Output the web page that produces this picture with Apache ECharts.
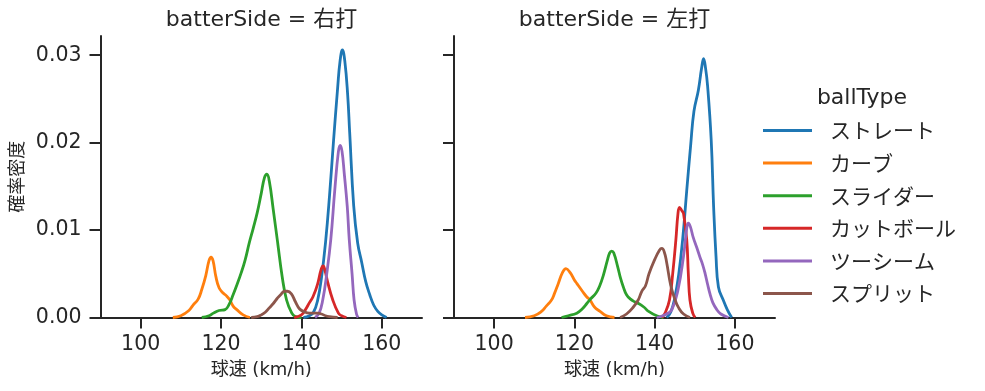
<!DOCTYPE html>
<html>
<head>
<meta charset="utf-8">
<script src="https://cdn.jsdelivr.net/npm/echarts@6/dist/echarts.min.js"></script>
<style>
html,body{margin:0;padding:0;background:#fff;}
#chart{width:985px;height:391px;}
</style>
</head>
<body>
<div id="chart"></div>
<script>
// ---------- data ----------
const ballTypes = ['ストレート', 'カーブ', 'スライダー', 'カットボール', 'ツーシーム', 'スプリット'];
const facetTitles = ['batterSide = 右打', 'batterSide = 左打'];
const xTicks = [100, 120, 140, 160];
const yTicks = [0, 0.01, 0.02, 0.03];
const xLabel = '球速 (km/h)';
const yLabel = '確率密度';
const legendTitle = 'ballType';

// 右打 (right-handed batters): [speed, density]
const rStraight = [[140.5,0],[142,0.0002],[143,0.0006],[144,0.0019],[145,0.0046],[146,0.0086],[147,0.0140],[148,0.0203],[149,0.0262],[149.6,0.0293],[150.2,0.0306],[150.8,0.0293],[151.5,0.0255],[152,0.0212],[153,0.0128],[154,0.0085],[155,0.0063],[156,0.0041],[157,0.0026],[158,0.0014],[159,0.0007],[160,0.0003],[161.2,0]];
const rCurve = [[108,0],[110,0.0002],[112,0.0008],[113,0.0014],[114.3,0.0021],[115.2,0.0032],[116.2,0.0048],[117,0.0065],[117.5,0.0069],[118,0.0065],[118.7,0.0047],[119.5,0.0034],[120.5,0.0028],[121.3,0.0025],[122.2,0.0020],[123,0.0013],[123.9,0.0009],[125.5,0.0003],[127.2,0]];
const rSlider = [[115.2,0],[117,0.0002],[118.1,0.0005],[119.5,0.0008],[121,0.0009],[122,0.0015],[123,0.0026],[124,0.0038],[125,0.0051],[126,0.0066],[127,0.0085],[128,0.0102],[129,0.0120],[130,0.0142],[130.8,0.0160],[131.4,0.0164],[132,0.0156],[133,0.0123],[134.1,0.0085],[135.2,0.0047],[136.3,0.0020],[137.6,0.0005],[138.5,0.0001],[140,0]];
const rCutter = [[138.2,0],[140,0.0003],[141,0.0009],[142,0.0017],[142.9,0.0024],[144,0.0038],[144.9,0.0055],[145.4,0.0059],[145.9,0.0053],[146.5,0.0041],[147.8,0.0020],[149.2,0.0005],[150,0.0002],[151.2,0]];
const rTwoSeam = [[143.4,0],[144.4,0.0005],[145.3,0.0020],[146.3,0.0050],[147.3,0.0089],[148.3,0.0146],[149.2,0.0190],[149.65,0.0197],[150.1,0.0190],[150.65,0.0165],[151.4,0.0127],[151.9,0.0089],[152.6,0.0050],[153.1,0.0020],[153.7,0.0004],[154.1,0]];
const rSplit = [[127.5,0],[129,0.0001],[130,0.0003],[131,0.0006],[132,0.0011],[133,0.0016],[134,0.0022],[135,0.0027],[135.8,0.0030],[136.5,0.0030],[137.5,0.0027],[138.5,0.0018],[139.5,0.0010],[140.5,0.0007],[142,0.0005],[144,0.0005],[145,0.0004],[146,0.0002],[147,0.0001],[149,0]];

// 左打 (left-handed batters)
const lStraight = [[143,0],[144,0.0006],[145,0.0022],[146,0.0049],[147,0.0090],[148,0.0145],[149,0.0198],[149.8,0.0236],[150.9,0.0260],[151.7,0.0285],[152.2,0.0296],[152.7,0.0285],[153.2,0.0265],[154.1,0.0203],[154.7,0.0127],[155.3,0.0070],[155.9,0.0035],[157.1,0.0020],[158.1,0.0009],[159.2,0]];
const lCurve = [[107.7,0],[110,0.0002],[111.8,0.0007],[113,0.0013],[114.3,0.0020],[115,0.0027],[116,0.0039],[117,0.0051],[117.9,0.0056],[119,0.0051],[120,0.0043],[120.6,0.0039],[122,0.0030],[123,0.0024],[123.9,0.0020],[125,0.0012],[126.4,0.0007],[128,0.0002],[130,0]];
const lSlider = [[116.8,0],[118.5,0.0002],[120.6,0.0005],[122,0.0010],[123.1,0.0016],[124,0.0021],[125.4,0.0028],[126.3,0.0036],[127.2,0.0048],[128.2,0.0065],[128.8,0.0074],[129.3,0.0076],[129.8,0.0074],[130.8,0.0058],[131.5,0.0045],[132.2,0.0035],[133,0.0026],[134,0.0021],[135,0.0018],[136,0.0016],[137.3,0.0012],[138.5,0.0007],[140.5,0.0002],[142.2,0]];
const lCutter = [[141.8,0],[142.6,0.0005],[143.7,0.0020],[144.5,0.0050],[145.3,0.0089],[145.8,0.0118],[146.2,0.0126],[146.8,0.0122],[147.2,0.0119],[148,0.0089],[148.4,0.0050],[148.8,0.0020],[149.5,0.0005],[150.1,0]];
const lTwoSeam = [[140.5,0],[142,0.0002],[143,0.0004],[144.3,0.0009],[145.8,0.0031],[147.2,0.0070],[148,0.0102],[148.4,0.0108],[148.9,0.0104],[149.6,0.0092],[150.5,0.0080],[151.3,0.0069],[152,0.0060],[152.6,0.0050],[153.2,0.0038],[153.8,0.0027],[154.5,0.0017],[155.5,0.0009],[156.5,0.0004],[158.4,0]];
const lSplit = [[131.4,0],[133,0.0004],[134.7,0.0012],[135.9,0.0020],[136.8,0.0030],[137.7,0.0036],[138.6,0.0050],[139.9,0.0065],[141.2,0.0077],[141.8,0.0079],[142.4,0.0075],[143,0.0063],[144,0.0037],[145.1,0.0020],[146,0.0011],[147.2,0.0004],[148.8,0]];

const facetData = [
  [rStraight, rCurve, rSlider, rCutter, rTwoSeam, rSplit],
  [lStraight, lCurve, lSlider, lCutter, lTwoSeam, lSplit]
];

// ---------- chart ----------
const palette = ['#1f77b4', '#ff7f0e', '#2ca02c', '#d62728', '#9467bd', '#8c564b'];
const ink = '#262626';
const FONT = '"DejaVu Sans", "Noto Sans CJK JP", sans-serif';
const JFONT = '"Noto Sans CJK JP", "DejaVu Sans", sans-serif';

const grids = [
  {left: 100.5, top: 36, width: 321.5, height: 281.5},
  {left: 454, top: 36, width: 321, height: 281.5}
];

function xAxisFor(i) {
  return {
    type: 'value', gridIndex: i, min: 90, max: 170,
    name: xLabel, nameLocation: 'middle', nameGap: 44,
    nameTextStyle: {fontFamily: FONT, fontSize: 18, color: ink},
    axisLine: {show: true, lineStyle: {color: ink, width: 2}},
    axisTick: {show: true, length: 11, lineStyle: {color: ink, width: 2}, customValues: xTicks},
    axisLabel: {show: true, margin: 17, fontFamily: FONT, fontSize: 20.5, color: ink, customValues: xTicks},
    splitLine: {show: false}
  };
}
function yAxisFor(i) {
  return {
    type: 'value', gridIndex: i, min: 0, max: 0.0322,
    name: i === 0 ? yLabel : '', nameLocation: 'middle', nameGap: 75, nameRotate: 90,
    nameTextStyle: {fontFamily: JFONT, fontSize: 18, color: ink},
    axisLine: {show: true, lineStyle: {color: ink, width: 2}},
    axisTick: {show: true, length: 11, lineStyle: {color: ink, width: 2}, customValues: yTicks},
    axisLabel: {show: i === 0, margin: 19, fontFamily: FONT, fontSize: 20.5, color: ink,
      customValues: yTicks, formatter: v => v.toFixed(2)},
    splitLine: {show: false}
  };
}

const series = [];
facetData.forEach((sets, i) => {
  sets.forEach((d, j) => {
    series.push({
      type: 'line', name: ballTypes[j], xAxisIndex: i, yAxisIndex: i,
      data: d, showSymbol: false, symbol: 'none', smooth: 0.45,
      lineStyle: {width: 2.8, color: palette[j]}, itemStyle: {color: palette[j]},
      z: 2 + j, silent: true
    });
  });
});

const chart = echarts.init(document.getElementById('chart'), null, {renderer: 'canvas'});
chart.setOption({
  animation: false,
  backgroundColor: '#fff',
  grid: grids,
  xAxis: [xAxisFor(0), xAxisFor(1)],
  yAxis: [yAxisFor(0), yAxisFor(1)],
  title: [
    {text: facetTitles[0], left: 261.5, top: 9, textAlign: 'center', padding: 0,
      textStyle: {fontFamily: FONT, fontSize: 22, fontWeight: 'normal', color: ink}},
    {text: facetTitles[1], left: 614.5, top: 9, textAlign: 'center', padding: 0,
      textStyle: {fontFamily: FONT, fontSize: 22, fontWeight: 'normal', color: ink}},
    {text: legendTitle, left: 862, top: 87, textAlign: 'center', padding: 0,
      textStyle: {fontFamily: FONT, fontSize: 22, fontWeight: 'normal', color: ink}}
  ],
  legend: {
    data: ballTypes, orient: 'vertical', left: 763, top: 120, padding: 0,
    icon: 'rect', itemWidth: 49, itemHeight: 3, itemGap: 11.6,
    selectedMode: false,
    textStyle: {fontFamily: JFONT, fontSize: 21, lineHeight: 21, color: ink, padding: [0, 0, 0, 13]}
  },
  series: series
});
</script>
</body>
</html>
